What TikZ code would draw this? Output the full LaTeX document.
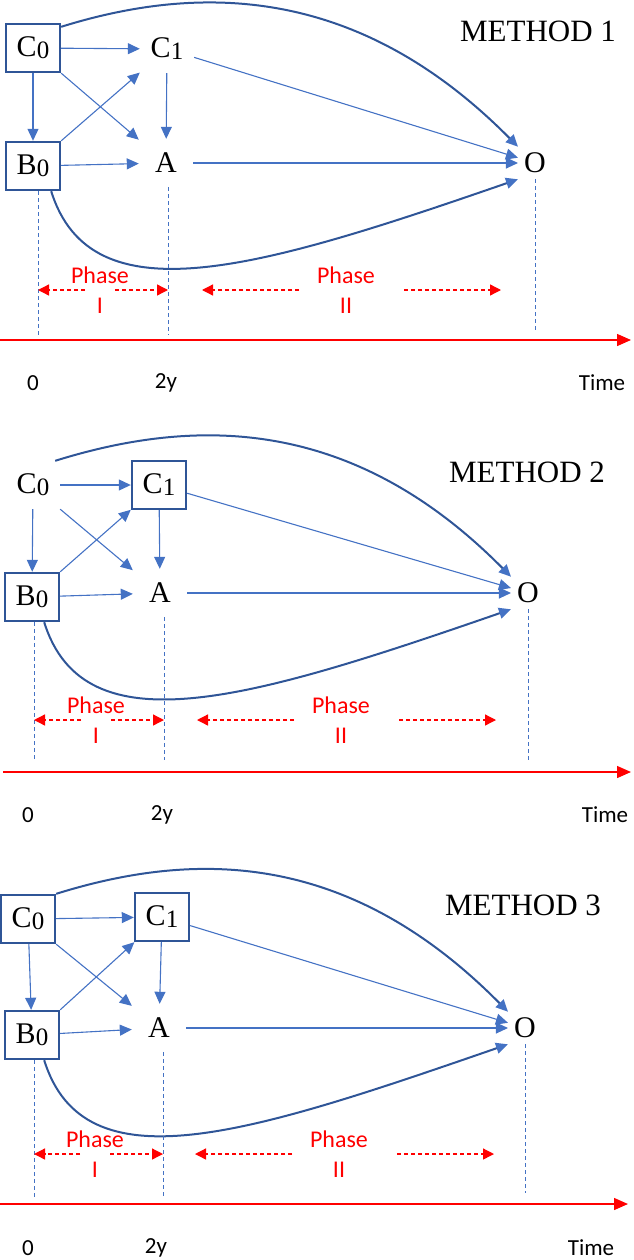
\documentclass[tikz,border=0pt]{standalone}
\usepackage{fontspec}
\setmainfont{Liberation Serif}
\newfontfamily\calib{Carlito}
\usetikzlibrary{arrows.meta}
\definecolor{linkblue}{HTML}{4472C4}
\definecolor{curveblue}{HTML}{2F5597}
\definecolor{phasered}{HTML}{FF0000}
\newcommand{\idx}[1]{\raisebox{-2pt}{\fontsize{25}{25}\selectfont #1}}
\tikzset{
  var/.style={minimum width=54pt,minimum height=48pt,inner sep=0pt,font=\fontsize{30}{30}\selectfont},
  boxed/.style={var,draw=curveblue,line width=2.4pt},
  outcome/.style={inner sep=6pt,font=\fontsize{30}{30}\selectfont},
  method/.style={font=\fontsize{31}{31}\selectfont},
  link/.style={linkblue,line width=1.1pt,-{Triangle[length=12pt,width=11pt]}},
  bigcurve/.style={curveblue,line width=2pt,-{Triangle[length=12pt,width=11pt,color=linkblue]}},
  guide/.style={linkblue,line width=0.7pt,dash pattern=on 4pt off 3pt},
  timeaxis/.style={phasered,line width=1.4pt,-{Triangle[length=14pt,width=12pt]}},
  phase/.style={phasered,align=center,inner sep=0pt,font=\calib\fontsize{24}{30}\selectfont},
  phasearrow/.style={phasered,line width=1.3pt,dash pattern=on 4pt off 3pt,-{Triangle[length=11pt,width=11pt]}},
  tick/.style={font=\calib\fontsize{23}{23}\selectfont},
}

\begin{document}
\begin{tikzpicture}[x=1pt,y=-1pt]
\useasboundingbox (0,0) rectangle (633,1260);

% method 1
\node[boxed] (C0a) at (33,48) {C\idx{0}};
\node[var] (C1a) at (167,49) {C\idx{1}};
\node[boxed] (B0a) at (33,166) {B\idx{0}};
\node[var] (Aa) at (166,163) {A};
\node[outcome] (Oa) at (535,163) {O};
\node[method] (Ma) at (538,31) {METHOD 1};

\draw[link] (C0a) -- (C1a);
\draw[link] (C0a) -- (B0a);
\draw[link] (C0a.south east) -- (Aa);
\draw[link] (B0a.north east) -- (C1a);
\draw[link] (C1a) -- (Aa);
\draw[link] (B0a) -- (Aa);
\draw[link] (C1a) -- (Oa);
\draw[link] (Aa) -- (Oa);
\draw[bigcurve] ([yshift=-4pt]C0a.north east) .. controls +(138,-43) and +(-160,-162) .. (Oa.north west);
\draw[bigcurve] ([xshift=-10pt]B0a.south east) .. controls +(40,128) and +(-260,90) .. (Oa.south west);

\coordinate (zeroA) at (38,335);
\coordinate (twoA) at (168,335);
\coordinate (endA) at (535,330);
\draw[guide] (B0a.south -| zeroA) -- (zeroA);
\draw[guide] (Aa.south -| twoA) -- (twoA);
\draw[guide] (Oa.south -| endA) -- (endA);

\node[phase] (p1a) at (100,290) {Phase\\I};
\node[phase] (p2a) at (346,290) {Phase\\II};
\draw[phasearrow] ([xshift=-15pt]p1a.center) -- (p1a.center -| zeroA);
\draw[phasearrow] ([xshift=15pt]p1a.center) -- (p1a.center -| twoA);
\draw[phasearrow] ([xshift=-47pt]p2a.center) -- ([xshift=-144pt]p2a.center);
\draw[phasearrow] ([xshift=58pt]p2a.center) -- ([xshift=155pt]p2a.center);

\coordinate (xa0) at (0,340);
\coordinate (xa1) at (631,340);
\draw[timeaxis] (xa0) -- (xa1);
\node[tick] (t0a) at (33,383) {0};
\node[tick] (t2a) at (166,383) {2y};
\node[tick] (tTa) at (602,383) {Time};

% method 2
\node[var] (C0b) at (33,485) {C\idx{0}};
\node[boxed] (C1b) at (159,485) {C\idx{1}};
\node[boxed] (B0b) at (32,597) {B\idx{0}};
\node[var] (Ab) at (160,593) {A};
\node[outcome] (Ob) at (528,593) {O};
\node[method] (Mb) at (527,472) {METHOD 2};

\draw[link] (C0b) -- (C1b);
\draw[link] (C0b) -- (B0b);
\draw[link] (C0b.south east) -- (Ab);
\draw[link] (B0b.north east) -- (C1b);
\draw[link] (C1b) -- (Ab);
\draw[link] (B0b) -- (Ab);
\draw[link] (C1b) -- (Ob);
\draw[link] (Ab) -- (Ob);
\draw[bigcurve] ([xshift=-5pt]C0b.north east) .. controls +(138,-43) and +(-160,-162) .. (Ob.north west);
\draw[bigcurve] ([xshift=-16pt]B0b.south east) .. controls +(40,128) and +(-260,90) .. (Ob.south west);

\coordinate (zeroB) at (34,760);
\coordinate (twoB) at (164,760);
\coordinate (endB) at (528,760);
\draw[guide] (B0b.south -| zeroB) -- (zeroB);
\draw[guide] (Ab.south -| twoB) -- (twoB);
\draw[guide] (Ob.south -| endB) -- (endB);

\node[phase] (p1b) at (96,720) {Phase\\I};
\node[phase] (p2b) at (341,720) {Phase\\II};
\draw[phasearrow] ([xshift=-15pt]p1b.center) -- (p1b.center -| zeroB);
\draw[phasearrow] ([xshift=15pt]p1b.center) -- (p1b.center -| twoB);
\draw[phasearrow] ([xshift=-47pt]p2b.center) -- ([xshift=-144pt]p2b.center);
\draw[phasearrow] ([xshift=58pt]p2b.center) -- ([xshift=155pt]p2b.center);

\coordinate (xb0) at (3,772);
\coordinate (xb1) at (631,772);
\draw[timeaxis] (xb0) -- (xb1);
\node[tick] (t0b) at (28,815) {0};
\node[tick] (t2b) at (162,815) {2y};
\node[tick] (tTb) at (605,815) {Time};

% method 3
\node[boxed] (C0c) at (28,919) {C\idx{0}};
\node[boxed] (C1c) at (162,917) {C\idx{1}};
\node[boxed] (B0c) at (32,1035) {B\idx{0}};
\node[var] (Ac) at (159,1028) {A};
\node[outcome] (Oc) at (525,1028) {O};
\node[method] (Mc) at (523,905) {METHOD 3};

\draw[link] (C0c) -- (C1c);
\draw[link] (C0c) -- (B0c);
\draw[link] (C0c.south east) -- (Ac);
\draw[link] (B0c.north east) -- (C1c);
\draw[link] (C1c) -- (Ac);
\draw[link] (B0c) -- (Ac);
\draw[link] (C1c) -- (Oc);
\draw[link] (Ac) -- (Oc);
\draw[bigcurve] (C0c.north east) .. controls +(138,-43) and +(-160,-162) .. (Oc.north west);
\draw[bigcurve] ([xshift=-16pt]B0c.south east) .. controls +(40,128) and +(-260,90) .. (Oc.south west);

\coordinate (zeroC) at (34,1198);
\coordinate (twoC) at (163,1198);
\coordinate (endC) at (525,1193);
\draw[guide] (B0c.south -| zeroC) -- (zeroC);
\draw[guide] (Ac.south -| twoC) -- (twoC);
\draw[guide] (Oc.south -| endC) -- (endC);

\node[phase] (p1c) at (95,1154) {Phase\\I};
\node[phase] (p2c) at (339,1154) {Phase\\II};
\draw[phasearrow] ([xshift=-15pt]p1c.center) -- (p1c.center -| zeroC);
\draw[phasearrow] ([xshift=15pt]p1c.center) -- (p1c.center -| twoC);
\draw[phasearrow] ([xshift=-47pt]p2c.center) -- ([xshift=-144pt]p2c.center);
\draw[phasearrow] ([xshift=58pt]p2c.center) -- ([xshift=155pt]p2c.center);

\coordinate (xc0) at (0,1204);
\coordinate (xc1) at (628,1204);
\draw[timeaxis] (xc0) -- (xc1);
\node[tick] (t0c) at (28,1248) {0};
\node[tick] (t2c) at (156,1248) {2y};
\node[tick] (tTc) at (591,1248) {Time};
\end{tikzpicture}
\end{document}
